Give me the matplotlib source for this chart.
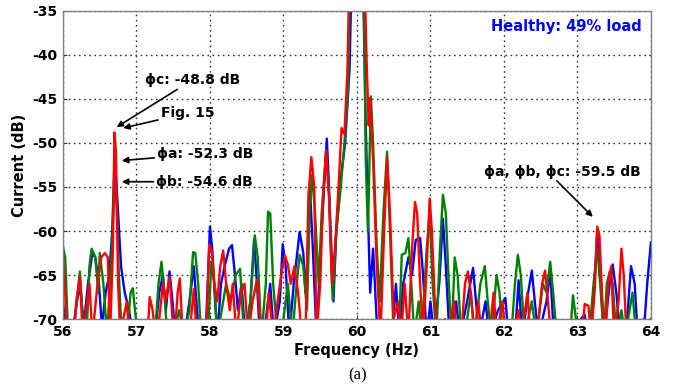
import numpy as np
import matplotlib
matplotlib.use("Agg")
import matplotlib.pyplot as plt

plt.rcParams["font.family"] = ["DejaVu Sans"]
plt.rcParams["font.weight"] = "bold"
plt.rcParams["axes.unicode_minus"] = False

# spectrum vertices (frequency in Hz, current in dB), one pair of lists per phase
fa = [56.00, 56.04, 56.12, 56.20, 56.24, 56.28, 56.34, 56.40, 56.44, 56.49, 56.53, 56.58, 56.63, 56.67,
      56.70, 56.72, 56.75, 56.79, 56.84, 56.90, 56.95, 57.05, 57.25, 57.31, 57.36, 57.40, 57.45, 57.49,
      57.53, 57.65, 57.72, 57.78, 57.85, 57.95, 58.00, 58.03, 58.07, 58.10, 58.15, 58.20, 58.26, 58.30,
      58.34, 58.38, 58.43, 58.48, 58.55, 58.60, 58.64, 58.68, 58.76, 58.82, 58.87, 58.95, 58.99, 59.03,
      59.08, 59.14, 59.22, 59.27, 59.30, 59.33, 59.36, 59.40, 59.45, 59.52, 59.59, 59.62, 59.68, 59.72,
      59.78, 59.84, 59.90, 59.93, 60.08, 60.12, 60.15, 60.18, 60.22, 60.28, 60.34, 60.40, 60.48, 60.53,
      60.58, 60.63, 60.70, 60.75, 60.80, 60.86, 60.90, 60.95, 61.00, 61.05, 61.12, 61.17, 61.21, 61.26,
      61.35, 61.40, 61.50, 61.58, 61.62, 61.66, 61.75, 61.80, 61.92, 62.02, 62.06, 62.15, 62.20, 62.25,
      62.33, 62.38, 62.42, 62.47, 62.58, 62.63, 62.68, 62.85, 63.10, 63.14, 63.22, 63.27, 63.32, 63.36,
      63.44, 63.48, 63.53, 63.58, 63.66, 63.73, 63.78, 63.82, 63.90, 63.95, 64.00]
da = [-68.2, -71, -72, -67.5, -66.5, -71, -66, -62.5, -63, -66, -71, -67, -65, -60,
      -52.3, -53.5, -58, -64, -67, -69, -72, -73, -72, -67, -65, -69, -64.6, -68,
      -72, -72, -68, -64, -72, -70, -59.5, -62, -68, -72, -66, -64, -62, -61.6,
      -65, -69, -66, -72, -68, -61, -66, -72, -70, -66, -72, -68, -61.5, -64,
      -72, -66, -60.1, -62.5, -67, -62.6, -55, -62, -72, -60, -49.5, -55, -68, -60,
      -54, -50, -41.5, -30, -30, -48, -58, -67, -62, -72, -71, -73, -72, -66,
      -72, -66, -63, -65, -61, -60.8, -65, -72, -68, -72, -66, -58.6, -64, -72,
      -68, -72, -68, -64.2, -68, -72, -68, -72, -69, -67.6, -72, -72, -65.6, -72,
      -67, -64.5, -68, -72, -68, -64.5, -72, -72, -69.5, -72, -68, -59.9, -66, -72,
      -66, -63.8, -67, -72, -72, -64, -66, -72, -72, -66, -61.3]

fb = [56.00, 56.03, 56.07, 56.15, 56.20, 56.23, 56.27, 56.32, 56.36, 56.39, 56.44, 56.48, 56.50, 56.55,
      56.60, 56.66, 56.70, 56.73, 56.76, 56.80, 56.88, 56.92, 56.95, 56.98, 57.02, 57.25, 57.30, 57.34,
      57.38, 57.42, 57.50, 57.58, 57.65, 57.72, 57.77, 57.80, 57.84, 57.88, 57.97, 58.02, 58.06, 58.10,
      58.16, 58.22, 58.28, 58.35, 58.41, 58.45, 58.50, 58.56, 58.61, 58.65, 58.70, 58.76, 58.79, 58.82,
      58.86, 58.92, 59.00, 59.06, 59.12, 59.18, 59.22, 59.27, 59.32, 59.36, 59.39, 59.43, 59.48, 59.52,
      59.58, 59.62, 59.67, 59.72, 59.78, 59.83, 59.88, 59.91, 60.09, 60.12, 60.15, 60.19, 60.22, 60.27,
      60.31, 60.36, 60.41, 60.45, 60.50, 60.57, 60.61, 60.66, 60.70, 60.74, 60.78, 60.84, 60.88, 60.95,
      60.99, 61.03, 61.08, 61.13, 61.17, 61.21, 61.25, 61.29, 61.33, 61.37, 61.42, 61.50, 61.55, 61.60,
      61.68, 61.74, 61.78, 61.83, 61.90, 61.94, 61.98, 62.10, 62.15, 62.19, 62.23, 62.28, 62.38, 62.44,
      62.53, 62.58, 62.63, 62.67, 62.72, 62.90, 62.94, 62.98, 63.02, 63.16, 63.22, 63.27, 63.31, 63.36,
      63.40, 63.44, 63.48, 63.53, 63.60, 63.65, 63.75, 63.80, 63.90, 64.00]
db = [-61.8, -63, -72, -71, -67, -64.6, -70, -72, -64, -62, -63, -67, -62.5, -66,
      -72, -63, -54.6, -57, -65, -72, -71, -67, -66.5, -69, -72, -72, -66, -63.5,
      -67, -72, -72, -69, -72, -69, -62.4, -62.5, -66, -72, -72, -63.5, -66, -72,
      -69, -66, -68, -65, -64.3, -70, -72, -67, -60.5, -63, -72, -66, -57.8, -58,
      -66, -72, -70, -66, -72, -66, -62.7, -64, -69, -57, -53.6, -58, -66, -58,
      -51, -56, -67.8, -60, -55, -50, -44, -30, -30, -52, -60, -44.7, -50, -62,
      -68, -58, -51, -60, -72, -72, -62.7, -62.5, -60.8, -66, -72, -68, -72, -62,
      -58, -66, -72, -62, -55.9, -58, -66, -72, -63, -65, -72, -70, -67, -72,
      -66, -64, -68, -72, -65, -67, -72, -72, -66, -62.7, -65, -72, -68, -72,
      -66, -67, -63.5, -67, -72, -72, -67.3, -70, -72, -72, -66, -62, -66, -72,
      -66, -64.6, -66, -72, -69, -72, -67, -72, -72, -70]

fc = [56.00, 56.03, 56.05, 56.15, 56.18, 56.23, 56.27, 56.33, 56.36, 56.40, 56.47, 56.52, 56.57, 56.61,
      56.64, 56.68, 56.70, 56.72, 56.75, 56.78, 56.82, 56.87, 56.90, 57.15, 57.18, 57.22, 57.26, 57.31,
      57.36, 57.40, 57.45, 57.49, 57.52, 57.56, 57.59, 57.63, 57.72, 57.78, 57.82, 57.95, 57.99, 58.03,
      58.06, 58.10, 58.14, 58.18, 58.22, 58.27, 58.31, 58.36, 58.42, 58.47, 58.52, 58.58, 58.64, 58.70,
      58.76, 58.80, 58.86, 58.92, 58.98, 59.02, 59.06, 59.10, 59.15, 59.20, 59.25, 59.30, 59.34, 59.38,
      59.42, 59.45, 59.50, 59.54, 59.58, 59.62, 59.66, 59.70, 59.75, 59.79, 59.83, 59.87, 59.90, 60.10,
      60.13, 60.16, 60.18, 60.22, 60.27, 60.32, 60.37, 60.41, 60.45, 60.50, 60.56, 60.60, 60.65, 60.70,
      60.75, 60.79, 60.82, 60.86, 60.90, 60.95, 60.99, 61.02, 61.06, 61.10, 61.20, 61.25, 61.32, 61.36,
      61.42, 61.47, 61.51, 61.55, 61.60, 61.65, 61.70, 61.80, 61.86, 61.90, 61.98, 62.02, 62.12, 62.20,
      62.24, 62.32, 62.36, 62.45, 62.52, 62.56, 62.60, 62.64, 62.90, 63.06, 63.10, 63.15, 63.19, 63.24,
      63.27, 63.30, 63.34, 63.38, 63.42, 63.46, 63.50, 63.56, 63.60, 63.63, 63.67, 63.85, 63.90, 63.95,
      64.00]
dc = [-62.9, -67, -72, -72, -68, -65.2, -72, -68, -66, -72, -66, -63, -62.5, -63,
      -72, -62, -48.8, -51, -66, -72, -70, -68, -72, -72, -67.5, -69, -72, -70,
      -66, -68, -65.2, -70, -72, -67, -65.4, -72, -72, -66.6, -72, -72, -61.5, -62.5,
      -66, -68, -64, -62.2, -66, -69, -66, -72, -67, -66, -72, -68, -65.5, -72,
      -72, -67, -72, -68, -64.5, -62.8, -63.8, -66, -64, -67, -72, -72, -56, -51.6,
      -55, -72, -66, -56, -50.8, -56, -66, -62, -55, -48.3, -49, -42, -30, -30,
      -40.2, -48, -44.9, -52, -64, -72, -60, -51.6, -58, -70, -68, -72, -66, -72,
      -62, -56.7, -58, -66, -72, -64, -56.3, -60, -68, -72, -70, -72, -68, -72,
      -72, -66, -64.6, -67, -72, -68, -72, -72, -67, -72, -68, -72, -72, -69,
      -72, -67, -72, -72, -66, -64.5, -68, -72, -72, -72, -68.3, -68.5, -72, -66,
      -59.5, -60.5, -68, -72, -66, -64, -72, -68, -62, -65, -72, -72, -70, -72,
      -72]

xticks = [56, 57, 58, 59, 60, 61, 62, 63, 64]
yticks = [-70, -65, -60, -55, -50, -45, -40, -35]

fig = plt.figure(figsize=(6.78, 3.87), dpi=100)
ax = fig.add_axes([0.0929, 0.1757, 0.8671, 0.7959])

ax.plot(fa, da, color="#0000ff", lw=1.7)
ax.plot(fb, db, color="#008000", lw=1.7)
ax.plot(fc, dc, color="#ff0000", lw=1.7)

ax.set_xlim(56, 64)
ax.set_ylim(-70, -35)
ax.set_xticks(xticks)
ax.set_yticks(yticks)
ax.tick_params(direction="in", length=3, labelsize=10, pad=4, colors="#333333")
for lab in ax.get_xticklabels() + ax.get_yticklabels():
    lab.set_fontweight("bold")
    lab.set_color("black")
ax.grid(True, linestyle=(0, (1.2, 2.5)), color="#333333", lw=1.0)
for sp in ax.spines.values():
    sp.set_color("#808080")
    sp.set_linewidth(1.0)

ax.set_xlabel("Frequency (Hz)", fontsize=10.5, fontweight="bold", labelpad=3)
ax.set_ylabel("Current (dB)", fontsize=10.5, fontweight="bold", labelpad=4)

ax.text(0.985, 0.95, "Healthy: 49% load", transform=ax.transAxes, ha="right", va="center",
        color="#0000ff", fontsize=10.5, fontweight="bold")

arrow = dict(arrowstyle="-|>", color="black", lw=1.2, mutation_scale=9, shrinkA=0, shrinkB=0)
ax.annotate("\u03d5c: -48.8 dB", xy=(56.73, -48.2), xytext=(57.12, -42.8),
            fontsize=10, fontweight="bold", va="center", ha="left", arrowprops=arrow)
ax.annotate("Fig. 15", xy=(56.82, -48.3), xytext=(57.33, -46.6),
            fontsize=10, fontweight="bold", va="center", ha="left", arrowprops=arrow)
ax.annotate("\u03d5a: -52.3 dB", xy=(56.80, -52.0), xytext=(57.28, -51.2),
            fontsize=10, fontweight="bold", va="center", ha="left", arrowprops=arrow)
ax.annotate("\u03d5b: -54.6 dB", xy=(56.80, -54.4), xytext=(57.27, -54.4),
            fontsize=10, fontweight="bold", va="center", ha="left", arrowprops=arrow)
ax.text(63.86, -53.3, "\u03d5a, \u03d5b, \u03d5c: -59.5 dB", fontsize=10, fontweight="bold",
        va="center", ha="right")
ax.annotate("", xy=(63.21, -58.4), xytext=(62.72, -54.3), arrowprops=arrow)

fig.text(0.527, 0.03, "(a)", family="Liberation Serif", fontweight="normal", fontsize=12,
         ha="center", va="center")

fig.savefig("out.png", dpi=100)
